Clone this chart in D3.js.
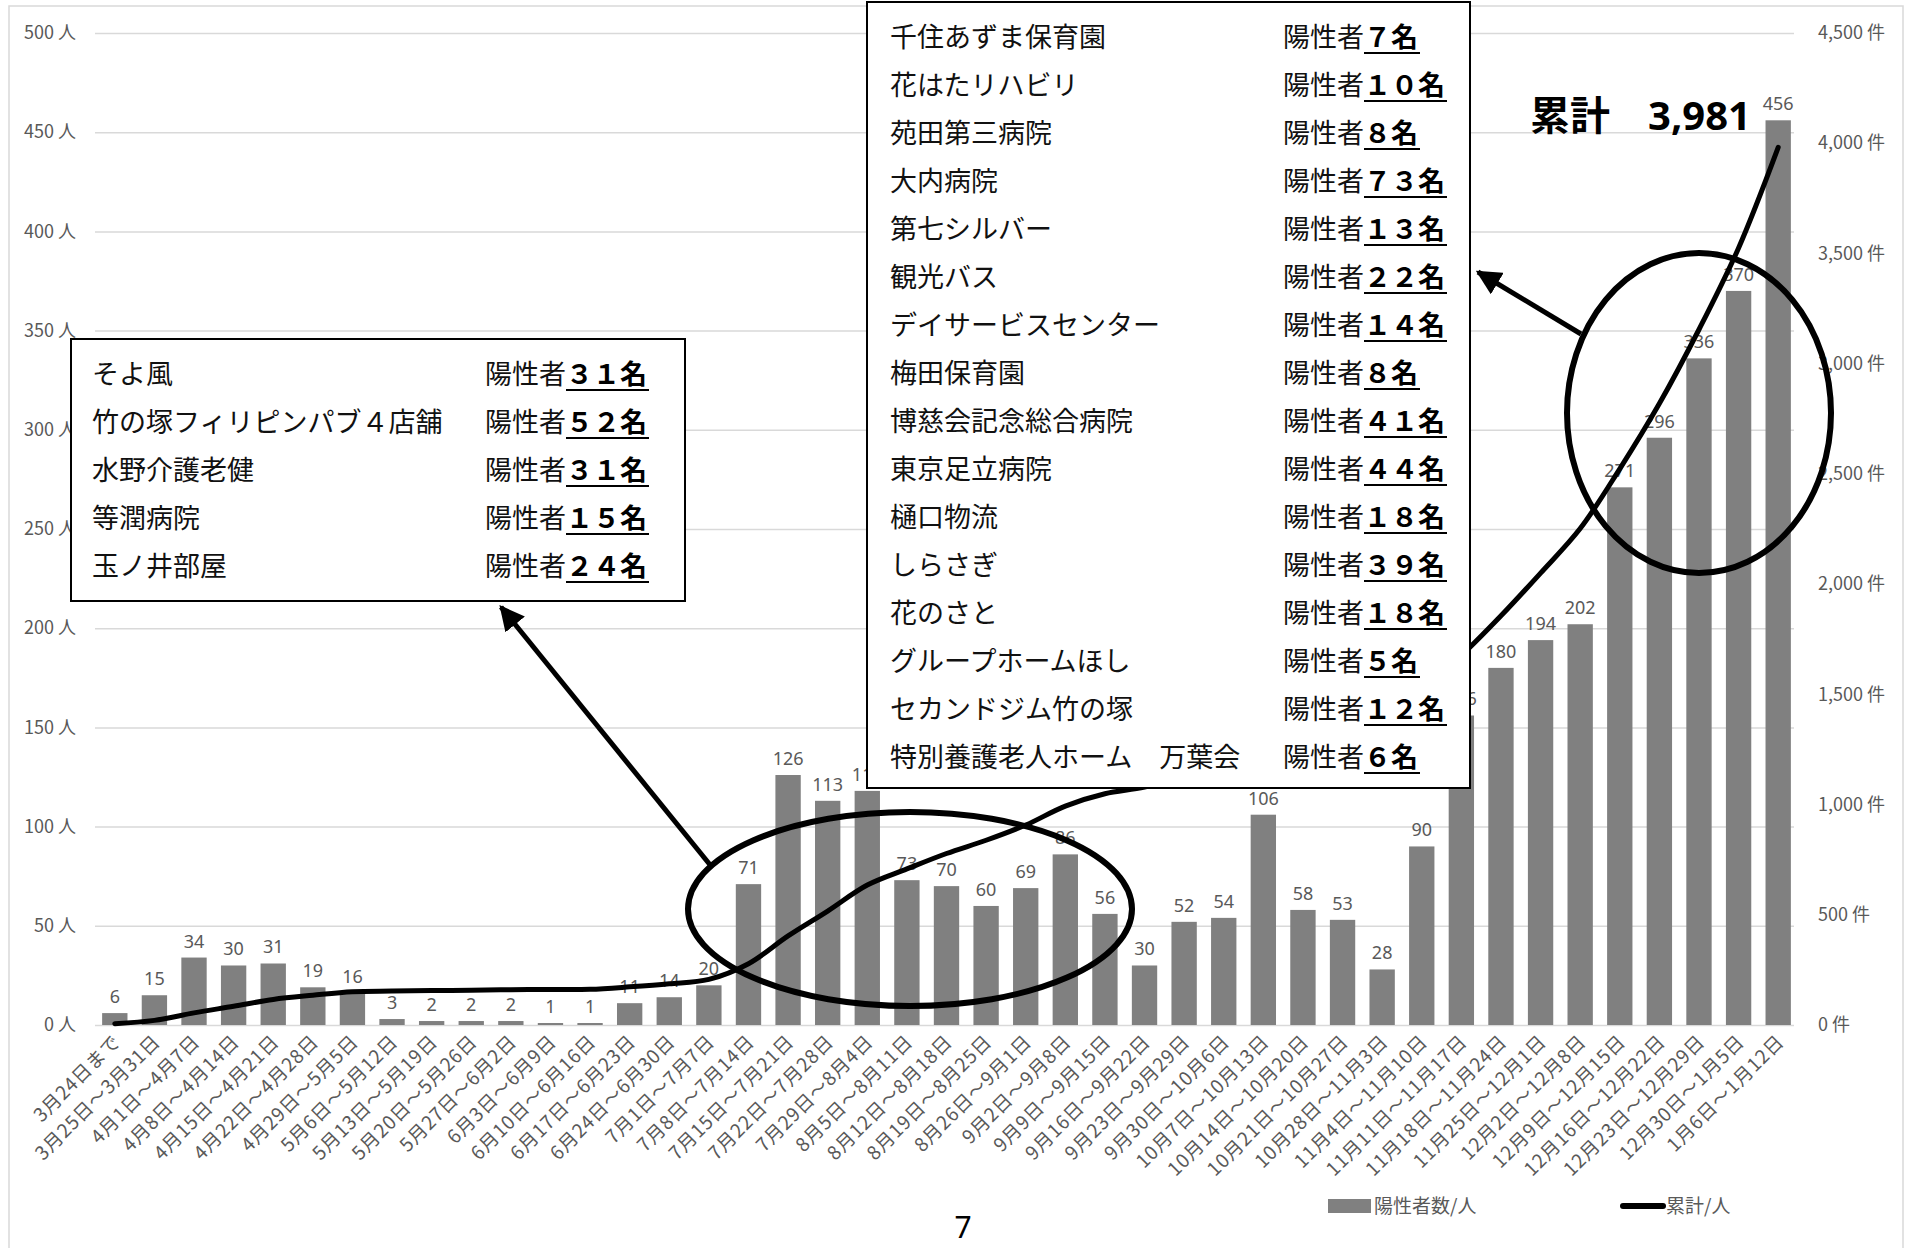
<!DOCTYPE html>
<html>
<head>
<meta charset="utf-8">
<script src="https://cdn.jsdelivr.net/npm/d3@7/dist/d3.min.js"></script>
<style>
body{margin:0;background:#fff;}
</style>
</head>
<body>
<div id="chart"></div>
<script>
// weekly periods
var weeks=["3月24日まで","3月25日～3月31日","4月1日～4月7日","4月8日～4月14日","4月15日～4月21日",
"4月22日～4月28日","4月29日～5月5日","5月6日～5月12日","5月13日～5月19日","5月20日～5月26日",
"5月27日～6月2日","6月3日～6月9日","6月10日～6月16日","6月17日～6月23日","6月24日～6月30日",
"7月1日～7月7日","7月8日～7月14日","7月15日～7月21日","7月22日～7月28日","7月29日～8月4日",
"8月5日～8月11日","8月12日～8月18日","8月19日～8月25日","8月26日～9月1日","9月2日～9月8日",
"9月9日～9月15日","9月16日～9月22日","9月23日～9月29日","9月30日～10月6日","10月7日～10月13日",
"10月14日～10月20日","10月21日～10月27日","10月28日～11月3日","11月4日～11月10日","11月11日～11月17日",
"11月18日～11月24日","11月25日～12月1日","12月2日～12月8日","12月9日～12月15日","12月16日～12月22日",
"12月23日～12月29日","12月30日～1月5日","1月6日～1月12日"];

var positives=[6,15,34,30,31,19,16,3,2,2,2,1,1,11,14,20,71,126,113,118,73,70,60,69,86,56,30,52,54,106,
58,53,28,90,156,180,194,202,271,296,336,370,456];

var cumulative=[6,21,55,85,116,135,151,154,156,158,160,161,162,173,187,207,278,404,517,635,708,778,838,907,
993,1049,1079,1131,1185,1291,1349,1402,1430,1520,1676,1856,2050,2252,2523,2819,3155,3525,3981];

var leftTicks=[0,50,100,150,200,250,300,350,400,450,500];
var rightTicks=[0,500,1000,1500,2000,2500,3000,3500,4000,4500];

var leftNames=["そよ風","竹の塚フィリピンパブ４店舗","水野介護老健","等潤病院","玉ノ井部屋"];
var leftCounts=["３１","５２","３１","１５","２４"];

var rightNames=["千住あずま保育園","花はたリハビリ","苑田第三病院","大内病院","第七シルバー","観光バス",
"デイサービスセンター","梅田保育園","博慈会記念総合病院","東京足立病院","樋口物流","しらさぎ","花のさと",
"グループホームほし","セカンドジム竹の塚","特別養護老人ホーム　万葉会"];
var rightCounts=["７","１０","８","７３","１３","２２","１４","８","４１","４４","１８","３９","１８","５","１２","６"];

var jp="'Noto Sans CJK JP','Noto Sans',sans-serif";
var grey="#595959";

var svg=d3.select("#chart")
	.append("svg")
	.attr("width",1907)
	.attr("height",1248);

svg.append("rect")
	.attr("width",1907).attr("height",1248)
	.attr("fill","#fff");

// chart frame
svg.append("rect")
	.attr("x",9).attr("y",6)
	.attr("width",1894).attr("height",1260)
	.attr("fill","none")
	.attr("stroke","#d9d9d9")
	.attr("stroke-width",1.5);

var x=d3.scaleBand().domain(weeks).range([95,1798]).paddingInner(0.36).paddingOuter(0.18);
var yL=d3.scaleLinear().domain([0,500]).range([1025,33]);
var yR=d3.scaleLinear().domain([0,4500]).range([1025,33]);
function cx(d){ return x(d)+x.bandwidth()/2; }

// gridlines
var grid=svg.append("g")
	.attr("transform","translate(95,0)")
	.call(d3.axisLeft(yL).tickValues(leftTicks).tickSize(-1699).tickFormat(""));
grid.select(".domain").remove();
grid.selectAll("line").attr("stroke","#d9d9d9").attr("stroke-width",1.5);

// left axis
var ax1=svg.append("g")
	.attr("transform","translate(95,0)")
	.call(d3.axisLeft(yL).tickValues(leftTicks).tickSize(0).tickPadding(19)
		.tickFormat(function(d){return d+" 人";}));
ax1.select(".domain").remove();
ax1.selectAll("text").attr("fill",grey).attr("font-size","18px").attr("font-family",jp);

// right axis
var ax2=svg.append("g")
	.attr("transform","translate(1798,0)")
	.call(d3.axisRight(yR).tickValues(rightTicks).tickSize(0).tickPadding(20)
		.tickFormat(function(d){return d3.format(",")(d)+" 件";}));
ax2.select(".domain").remove();
ax2.selectAll("text").attr("fill",grey).attr("font-size","18px").attr("font-family",jp);

// bars
svg.selectAll("rect.bar")
	.data(positives)
	.enter()
	.append("rect")
	.attr("class","bar")
	.attr("x",function(d,i){return x(weeks[i]);})
	.attr("y",function(d){return yL(d);})
	.attr("width",x.bandwidth())
	.attr("height",function(d){return yL(0)-yL(d);})
	.attr("fill","#808080");

// bar labels
svg.selectAll("text.val")
	.data(positives)
	.enter()
	.append("text")
	.attr("class","val")
	.attr("x",function(d,i){return cx(weeks[i]);})
	.attr("y",function(d){return yL(d)-10;})
	.attr("text-anchor","middle")
	.attr("fill",grey)
	.attr("font-size","18px")
	.attr("font-family","'Noto Sans',sans-serif")
	.text(function(d){return d;});

// category labels
svg.selectAll("text.cat")
	.data(weeks)
	.enter()
	.append("text")
	.attr("class","cat")
	.attr("transform",function(d){return "translate("+(cx(d)+7)+",1043) rotate(-45)";})
	.attr("text-anchor","end")
	.attr("fill",grey)
	.attr("font-size","19px")
	.attr("letter-spacing","0.8px")
	.attr("font-family",jp)
	.text(function(d){return d;});

// cumulative line
var line=d3.line()
	.x(function(d,i){return cx(weeks[i]);})
	.y(function(d){return yR(d);})
	.curve(d3.curveCatmullRom.alpha(0.5));
svg.append("path")
	.datum(cumulative)
	.attr("d",line)
	.attr("fill","none")
	.attr("stroke","#000")
	.attr("stroke-width",5)
	.attr("stroke-linecap","round");

// legend
svg.append("rect").attr("x",1328).attr("y",1199).attr("width",43).attr("height",14).attr("fill","#808080");
svg.append("text").attr("x",1374).attr("y",1213).attr("fill",grey).attr("font-size","19px")
	.attr("font-family",jp).text("陽性者数/人");
svg.append("line").attr("x1",1623).attr("x2",1663).attr("y1",1206).attr("y2",1206)
	.attr("stroke","#000").attr("stroke-width",6).attr("stroke-linecap","round");
svg.append("text").attr("x",1666).attr("y",1213).attr("fill",grey).attr("font-size","19px")
	.attr("font-family",jp).text("累計/人");

// ellipses
function ring(cx0,cy0,rx,ry){
	svg.append("ellipse")
		.attr("cx",cx0).attr("cy",cy0)
		.attr("rx",rx).attr("ry",ry)
		.attr("fill","none")
		.attr("stroke","#000")
		.attr("stroke-width",6);
}
ring(910,909,222,97);
ring(1699,413,132,160);

// arrows
svg.append("defs").append("marker")
	.attr("id","head")
	.attr("viewBox","0 0 10 10")
	.attr("refX",9).attr("refY",5)
	.attr("markerWidth",5).attr("markerHeight",5)
	.attr("markerUnits","strokeWidth")
	.attr("orient","auto")
	.append("path")
	.attr("d","M0,0 L10,5 L0,10 z")
	.attr("fill","#000");

function arrow(x1,y1,x2,y2){
	svg.append("line")
		.attr("x1",x1).attr("y1",y1)
		.attr("x2",x2).attr("y2",y2)
		.attr("stroke","#000")
		.attr("stroke-width",5)
		.attr("marker-end","url(#head)");
}
arrow(711,866,501,607);
arrow(1581,334,1478,272);

// callout boxes
function callout(bx,by,bw,bh,names,counts,nameX,countX,top){
	svg.append("rect")
		.attr("x",bx).attr("y",by)
		.attr("width",bw).attr("height",bh)
		.attr("fill","#fff")
		.attr("stroke","#000")
		.attr("stroke-width",2);
	names.forEach(function(n,i){
		var yy=top+i*48;
		svg.append("text")
			.attr("x",nameX).attr("y",yy)
			.attr("font-size","27px")
			.attr("font-family",jp)
			.attr("fill","#111")
			.text(n);
		var t=svg.append("text")
			.attr("x",countX).attr("y",yy)
			.attr("font-size","27px")
			.attr("font-family",jp)
			.attr("fill","#111");
		t.append("tspan").text("陽性者");
		var b=t.append("tspan")
			.attr("font-weight","bold")
			.attr("fill","#000")
			.text(counts[i]+"名");
		var bb=b.node().getBBox();
		svg.append("line")
			.attr("x1",bb.x).attr("x2",bb.x+bb.width+2)
			.attr("y1",yy+6).attr("y2",yy+6)
			.attr("stroke","#000")
			.attr("stroke-width",2);
	});
}
callout(71,339,614,262,leftNames,leftCounts,92,485,384);
callout(867,2,603,786,rightNames,rightCounts,890,1283,47);

// total
var tot=svg.append("text")
	.attr("y",130)
	.attr("font-size","40px")
	.attr("font-weight","bold")
	.attr("font-family",jp)
	.attr("fill","#000");
tot.append("tspan").attr("x",1530).text("累計");
tot.append("tspan").attr("x",1648).attr("font-family","'Noto Sans',sans-serif").text("3,981");

// page number
svg.append("text")
	.attr("x",963).attr("y",1238)
	.attr("text-anchor","middle")
	.attr("font-size","30px")
	.attr("font-family","'Noto Sans',sans-serif")
	.attr("fill","#000")
	.text("7");
</script>
</body>
</html>
